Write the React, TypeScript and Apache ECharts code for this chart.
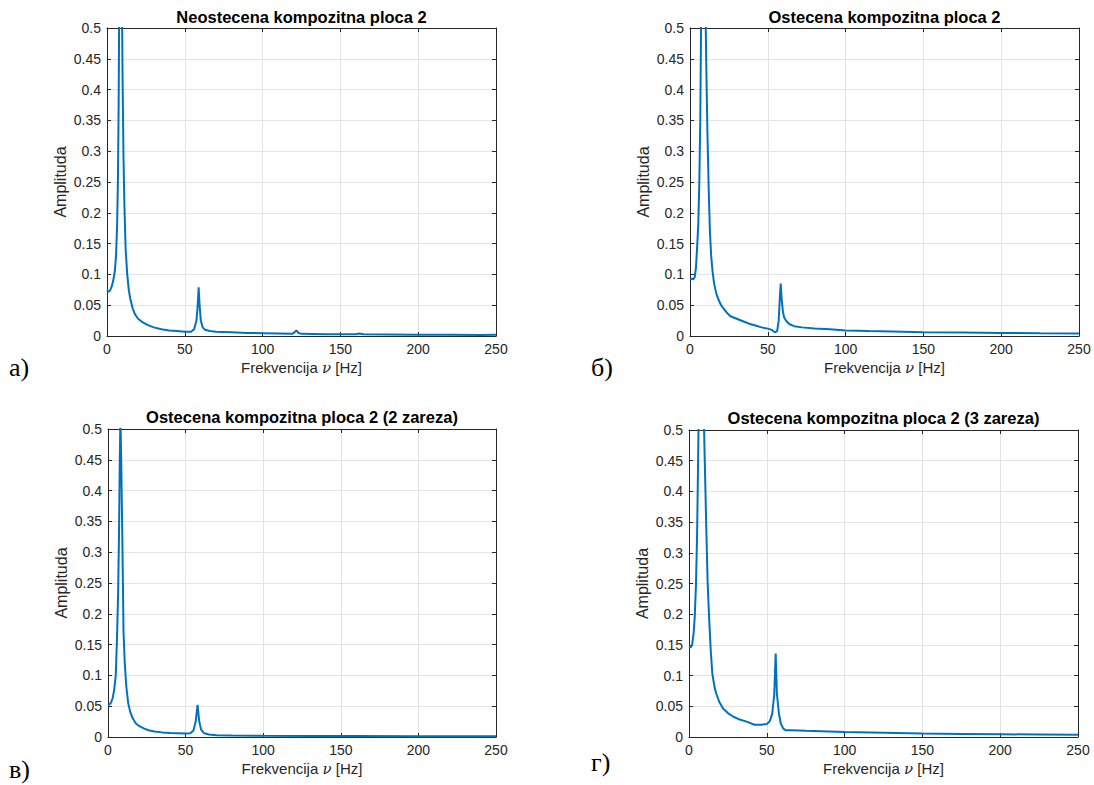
import React, { useEffect, useRef } from "react";
import * as echarts from "echarts";

// ---- data (frequency Hz, amplitude) ----
const titles = [
  "Neostecena kompozitna ploca 2",
  "Ostecena kompozitna ploca 2",
  "Ostecena kompozitna ploca 2 (2 zareza)",
  "Ostecena kompozitna ploca 2 (3 zareza)",
];
const panelLabels = ["а)", "б)", "в)", "г)"];
const xTicks = [0, 50, 100, 150, 200, 250];
const yTicks = [0, 0.05, 0.1, 0.15, 0.2, 0.25, 0.3, 0.35, 0.4, 0.45, 0.5];

const seriesA: number[][] = [
  [0, 0.074], [1, 0.072], [2, 0.074], [3, 0.08], [4, 0.09], [5, 0.105], [5.8, 0.13],
  [6.5, 0.18], [7, 0.25], [7.5, 0.38], [8, 0.6], [8.7, 1.5], [9.4, 0.62], [10, 0.42],
  [10.6, 0.29], [11.2, 0.21], [12, 0.14], [13, 0.1], [14, 0.075], [15, 0.06], [16.5, 0.045],
  [18, 0.035], [20, 0.028], [23, 0.022], [26, 0.018], [30, 0.014], [35, 0.011], [40, 0.009],
  [45, 0.008], [50, 0.007], [54, 0.007], [56, 0.011], [57.5, 0.025], [58.3, 0.05], [58.9, 0.079],
  [59.5, 0.05], [60.3, 0.025], [61.5, 0.014], [63, 0.01], [66, 0.008], [70, 0.007], [80, 0.006],
  [90, 0.005], [100, 0.0045], [110, 0.004], [119, 0.0035], [120.5, 0.006], [121.7, 0.009],
  [123, 0.005], [125, 0.0035], [140, 0.003], [160, 0.003], [162, 0.004], [165, 0.0028],
  [180, 0.0025], [200, 0.0022], [220, 0.002], [240, 0.0018], [250, 0.002],
];
const seriesB: number[][] = [
  [0, 0.094], [1, 0.093], [2, 0.092], [3, 0.095], [3.8, 0.11], [4.5, 0.14], [5.3, 0.18],
  [6, 0.25], [6.6, 0.35], [7.1, 0.5], [7.8, 1.5], [8.6, 1.2], [9.6, 0.6], [10.4, 0.45],
  [11.2, 0.33], [12, 0.24], [12.8, 0.17], [13.6, 0.13], [14.5, 0.105], [15.5, 0.085],
  [17, 0.068], [18.5, 0.058], [20, 0.05], [22, 0.043], [24, 0.037], [26, 0.032], [30, 0.028],
  [34, 0.024], [38, 0.02], [42, 0.017], [46, 0.014], [50, 0.012], [52.5, 0.01], [54.5, 0.006],
  [56, 0.008], [57, 0.025], [57.7, 0.06], [58.3, 0.085], [58.9, 0.06], [59.7, 0.04],
  [60.5, 0.03], [62, 0.024], [64, 0.019], [67, 0.016], [72, 0.014], [80, 0.012], [90, 0.011],
  [100, 0.009], [115, 0.008], [130, 0.0075], [150, 0.006], [175, 0.0055], [200, 0.005],
  [225, 0.0045], [250, 0.0042],
];
const seriesC: number[][] = [
  [0, 0.052], [1, 0.053], [2, 0.056], [3, 0.063], [4, 0.077], [5, 0.1], [5.8, 0.16],
  [6.5, 0.23], [7.1, 0.33], [7.6, 0.45], [8.0, 0.52], [8.5, 0.45], [9.2, 0.33], [9.6, 0.25],
  [10, 0.17], [10.8, 0.12], [11.8, 0.082], [13, 0.055], [14.4, 0.04], [16, 0.03], [18, 0.022],
  [20, 0.018], [23, 0.014], [26, 0.011], [30, 0.009], [35, 0.0075], [40, 0.0065], [45, 0.006],
  [50, 0.0055], [53, 0.006], [55, 0.01], [56.5, 0.025], [57.7, 0.052], [58.8, 0.025],
  [60, 0.012], [62, 0.006], [65, 0.004], [70, 0.003], [80, 0.0025], [100, 0.002],
  [130, 0.0018], [160, 0.0016], [200, 0.0014], [250, 0.0012],
];
const seriesD: number[][] = [
  [0, 0.147], [1, 0.146], [2, 0.15], [3, 0.17], [3.7, 0.196], [4.5, 0.25], [5.2, 0.33],
  [5.7, 0.42], [6.1, 0.5], [7, 0.9], [8, 1.5], [9, 1.0], [9.7, 0.5], [10.4, 0.42],
  [11.2, 0.33], [12, 0.25], [12.9, 0.196], [14, 0.14], [15, 0.103], [16.5, 0.08],
  [17.6, 0.07], [19.5, 0.057], [22, 0.046], [25, 0.039], [28.5, 0.033], [32, 0.029],
  [37, 0.025], [42, 0.02], [46, 0.02], [50, 0.021], [52, 0.026], [53.5, 0.038], [54.8, 0.07],
  [55.7, 0.136], [56.5, 0.07], [57.8, 0.038], [59, 0.022], [60.5, 0.014], [62, 0.011],
  [66, 0.011], [75, 0.01], [90, 0.009], [100, 0.008], [125, 0.007], [150, 0.0055],
  [175, 0.005], [200, 0.0045], [225, 0.004], [250, 0.0036],
];
const allSeries = [seriesA, seriesB, seriesC, seriesD];

const grids = [
  { left: 107, top: 28, width: 389, height: 308 },
  { left: 690, top: 28, width: 389, height: 308 },
  { left: 108, top: 429, width: 388, height: 308 },
  { left: 689, top: 430, width: 389, height: 307 },
];
const titleY = [8, 8, 408, 409];
const labelPos = [
  { x: 9, y: 354 },
  { x: 591, y: 354 },
  { x: 9, y: 756 },
  { x: 591, y: 749 },
];

const AXIS = "#262626";
const GRIDC = "#e3e3e3";
const FONT = "'Liberation Sans', Arial, Helvetica, sans-serif";

export default function App() {
  const ref = useRef<HTMLDivElement>(null);
  useEffect(() => {
    if (!ref.current) return;
    const chart = echarts.init(ref.current, undefined, { renderer: "svg" });
    const xAxis: any[] = [];
    const yAxis: any[] = [];
    const series: any[] = [];
    const title: any[] = [];
    grids.forEach((g, i) => {
      const common = { type: "value", gridIndex: i };
      xAxis.push({
        ...common,
        position: "bottom",
        min: xTicks[0],
        max: xTicks[xTicks.length - 1],
        interval: 50,
        name: "Frekvencija {i|ν} [Hz]",
        nameLocation: "middle",
        nameGap: 24,
        nameTextStyle: {
          color: AXIS,
          fontSize: 15,
          fontFamily: FONT,
          rich: { i: { fontStyle: "italic", fontSize: 15, fontFamily: "'DejaVu Serif', serif", color: AXIS } },
        },
        axisLine: { show: true, lineStyle: { color: AXIS, width: 1 } },
        axisTick: { show: true, inside: true, length: 4, lineStyle: { color: AXIS } },
        axisLabel: { color: AXIS, fontSize: 14, fontFamily: FONT, margin: 6 },
        splitLine: { show: true, lineStyle: { color: GRIDC, width: 1 } },
      });
      xAxis.push({
        ...common,
        position: "top",
        min: xTicks[0],
        max: xTicks[xTicks.length - 1],
        interval: 50,
        axisLine: { show: true, onZero: false, lineStyle: { color: AXIS, width: 1 } },
        axisTick: { show: true, inside: true, length: 4, lineStyle: { color: AXIS } },
        axisLabel: { show: false },
        splitLine: { show: false },
      });
      yAxis.push({
        ...common,
        position: "left",
        min: yTicks[0],
        max: yTicks[yTicks.length - 1],
        interval: 0.05,
        name: "Amplituda",
        nameLocation: "middle",
        nameGap: 39,
        nameTextStyle: { color: AXIS, fontSize: 16, fontFamily: FONT },
        axisLine: { show: true, lineStyle: { color: AXIS, width: 1 } },
        axisTick: { show: true, inside: true, length: 4, lineStyle: { color: AXIS } },
        axisLabel: { color: AXIS, fontSize: 14, fontFamily: FONT, margin: 6 },
        splitLine: { show: true, lineStyle: { color: GRIDC, width: 1 } },
      });
      yAxis.push({
        ...common,
        position: "right",
        min: yTicks[0],
        max: yTicks[yTicks.length - 1],
        interval: 0.05,
        axisLine: { show: true, onZero: false, lineStyle: { color: AXIS, width: 1 } },
        axisTick: { show: true, inside: true, length: 4, lineStyle: { color: AXIS } },
        axisLabel: { show: false },
        splitLine: { show: false },
      });
      series.push({
        type: "line",
        xAxisIndex: 2 * i,
        yAxisIndex: 2 * i,
        data: allSeries[i],
        showSymbol: false,
        smooth: false,
        clip: true,
        lineStyle: { color: "#0072BD", width: 2 },
        itemStyle: { color: "#0072BD" },
      });
      title.push({
        text: titles[i],
        left: g.left + g.width / 2,
        top: titleY[i],
        textAlign: "center",
        padding: 0,
        textStyle: { fontSize: 16.5, fontWeight: "bold", color: "#000", fontFamily: FONT },
      });
    });
    const graphic = panelLabels.map((t, i) => ({
      type: "text",
      x: labelPos[i].x,
      y: labelPos[i].y,
      style: {
        text: t,
        fontSize: 26,
        fontFamily: "'Liberation Serif', 'Times New Roman', serif",
        fill: "#000",
      },
    }));
    chart.setOption({
      animation: false,
      backgroundColor: "#fff",
      title,
      grid: grids.map((g) => ({ ...g, containLabel: false })),
      xAxis,
      yAxis,
      series,
      graphic,
    });
    return () => chart.dispose();
  }, []);
  return (
    <div
      ref={ref}
      style={{ position: "absolute", left: 0, top: 0, width: 1094, height: 785 }}
    />
  );
}
